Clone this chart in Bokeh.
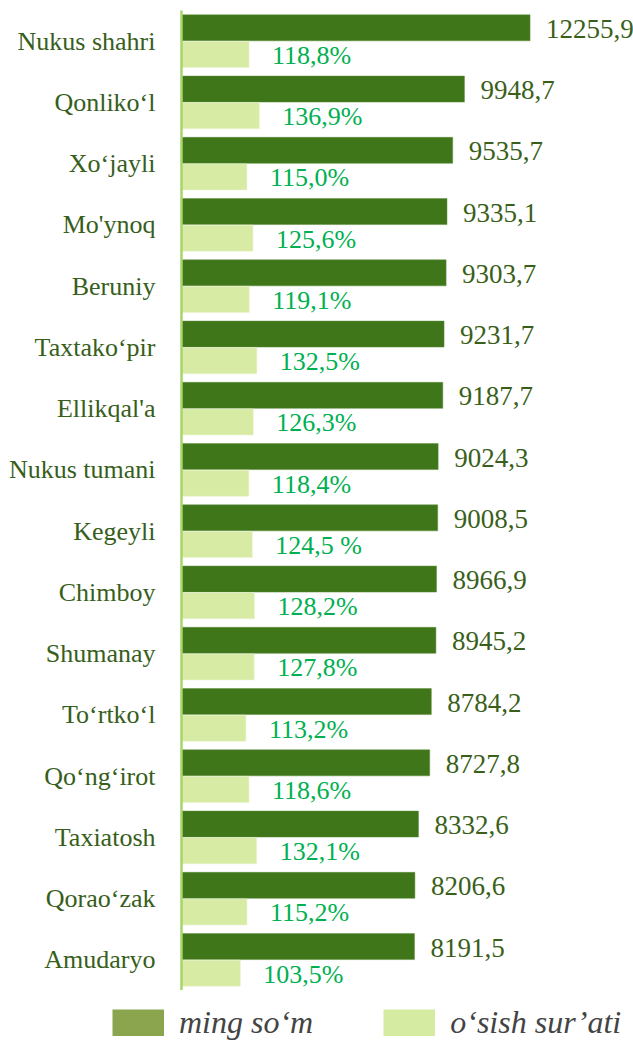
from bokeh.plotting import figure
from bokeh.models import ColumnDataSource, Range1d, LabelSet, Legend, LegendItem, FactorRange
from bokeh.layouts import column, row
from bokeh.transform import dodge
from bokeh.embed import file_html
from bokeh.resources import INLINE

districts = ["Nukus shahri", "Qonliko\u2018l", "Xo\u2018jayli", "Mo'ynoq", "Beruniy",
             "Taxtako\u2018pir", "Ellikqal'a", "Nukus tumani", "Kegeyli", "Chimboy",
             "Shumanay", "To\u2018rtko\u2018l", "Qo\u2018ng\u2018irot", "Taxiatosh",
             "Qorao\u2018zak", "Amudaryo"]
ming_som = [12255.9, 9948.7, 9535.7, 9335.1, 9303.7, 9231.7, 9187.7, 9024.3,
            9008.5, 8966.9, 8945.2, 8784.2, 8727.8, 8332.6, 8206.6, 8191.5]
osish = [118.8, 136.9, 115.0, 125.6, 119.1, 132.5, 126.3, 118.4,
         124.5, 128.2, 127.8, 113.2, 118.6, 132.1, 115.2, 103.5]
ming_labels = ["12255,9", "9948,7", "9535,7", "9335,1", "9303,7", "9231,7", "9187,7", "9024,3",
               "9008,5", "8966,9", "8945,2", "8784,2", "8727,8", "8332,6", "8206,6", "8191,5"]
osish_labels = ["118,8%", "136,9%", "115,0%", "125,6%", "119,1%", "132,5%", "126,3%", "118,4%",
                "124,5 %", "128,2%", "127,8%", "113,2%", "118,6%", "132,1%", "115,2%", "103,5%"]
legend_names = ["ming so\u2018m", "o\u2018sish sur\u2019ati"]

src = ColumnDataSource(dict(d=districts, v=ming_som, p=osish, vl=ming_labels, pl=osish_labels))

FONT = "Liberation Serif"
DARK = "#40761A"
LIGHT = "#D7EBA4"

xmax = 15893
p = figure(width=633, height=990, output_backend="svg", toolbar_location=None,
           y_range=FactorRange(*reversed(districts), range_padding=0),
           x_range=Range1d(0, xmax))
p.extra_x_ranges = {"pct": Range1d(0, xmax / 20)}
p.min_border_left = 181
p.min_border_right = 0
p.min_border_top = 10
p.min_border_bottom = 0
p.outline_line_color = None
p.background_fill_color = "white"
p.border_fill_color = "white"
p.grid.visible = False
p.xaxis.visible = False

yax = p.yaxis[0]
yax.axis_line_color = "#A8D46A"
yax.axis_line_width = 2.5
yax.major_tick_line_color = None
yax.minor_tick_line_color = None
yax.major_label_text_font = FONT
yax.major_label_text_font_size = "26px"
yax.major_label_text_color = "#375E1B"
yax.major_label_standoff = 20

off = 0.217
h = 0.424
p.hbar(y=dodge("d", off, range=p.y_range), right="v", left=0, height=h, source=src,
       fill_color=DARK, line_color="#5C8C3A", line_width=0.5)
p.hbar(y=dodge("d", -off, range=p.y_range), right="p", left=0, height=h, source=src,
       fill_color=LIGHT, line_color="#E8F4CC", line_width=0.5, x_range_name="pct")

p.add_layout(LabelSet(x="v", y=dodge("d", off, range=p.y_range), text="vl", source=src,
                      x_offset=16, y_offset=-1, text_baseline="middle", text_font=FONT,
                      text_font_size="27px", text_color="#3A5F1A"))
p.add_layout(LabelSet(x="p", y=dodge("d", -off, range=p.y_range), text="pl", source=src,
                      x_offset=23, y_offset=-1, text_baseline="middle", text_font=FONT,
                      text_font_size="26px", text_color="#00B050", x_range_name="pct"))

# legend strip
lg = figure(width=633, height=53, output_backend="svg", toolbar_location=None,
            x_range=Range1d(0, 1), y_range=Range1d(0, 1),
            min_border_left=0, min_border_right=0, min_border_top=0, min_border_bottom=0)
lg.axis.visible = False
lg.grid.visible = False
lg.outline_line_color = None
proxy = ColumnDataSource(dict(x=[-5, -4], y=[-5, -5]))
r1 = lg.line("x", "y", source=proxy, line_color="#8AA54E", line_width=27)
r2 = lg.line("x", "y", source=proxy, line_color="#D6EBA2", line_width=27)
leg = Legend(items=[LegendItem(label=legend_names[0], renderers=[r1]),
                    LegendItem(label=legend_names[1], renderers=[r2])],
             orientation="horizontal", location=(112, 2),
             glyph_width=52, glyph_height=27, label_height=27,
             label_text_font=FONT, label_text_font_style="italic",
             label_text_font_size="32px", label_standoff=15, spacing=70,
             padding=0, margin=0, border_line_color=None, background_fill_alpha=0)
lg.add_layout(leg, "center")

layout = column(p, row(lg), spacing=0)
open("out.html", "w").write(file_html(layout, INLINE))
